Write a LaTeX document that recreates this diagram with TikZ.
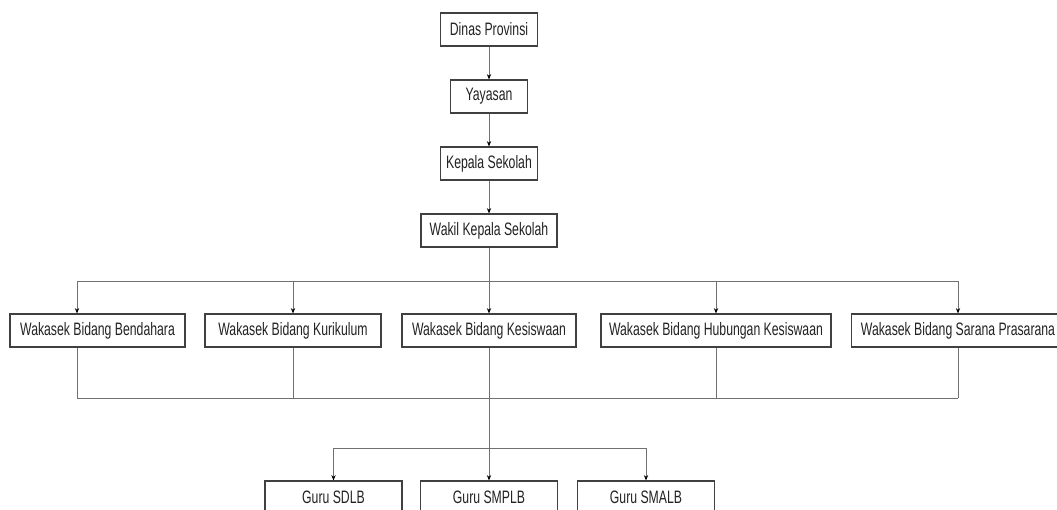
\documentclass[tikz,border=0pt]{standalone}
\usepackage{fontspec}
\setmainfont{Liberation Sans}[FakeStretch=0.68]
\usetikzlibrary{arrows.meta}
\definecolor{boxline}{HTML}{404040}
\definecolor{conn}{HTML}{707070}
\definecolor{txt}{HTML}{222222}
\tikzset{
  orgbox/.style={draw=boxline, line width=0.8pt, fill=white, inner sep=0pt,
    minimum height=33*0.75pt, text=txt, font=\fontsize{13.5}{15}\selectfont, anchor=center},
  conline/.style={draw=conn, line width=0.6pt},
  arr/.style={conline, -{Stealth[length=4pt,width=3.2pt,color=black]}}
}
\begin{document}
\begin{tikzpicture}[x=0.75pt,y=-0.75pt]
\clip (0,0) rectangle (1057,510);
\fill[white] (0,0) rectangle (1057,510);
% top chain
\node[orgbox, minimum width=97*0.75pt] (dinas) at (489,29.5) {Dinas Provinsi};
\node[orgbox, minimum width=77*0.75pt] (yay) at (489,96.5) {Yayasan};
\node[orgbox, minimum width=97*0.75pt] (kep) at (489,163.5) {Kepala Sekolah};
\node[orgbox, minimum width=136*0.75pt] (wak) at (489,230.5) {Wakil Kepala Sekolah};
% row
\node[orgbox, minimum width=175*0.75pt] (bend) at (97.5,330.5) {Wakasek Bidang Bendahara};
\node[orgbox, minimum width=176*0.75pt] (kur) at (293,330.5) {Wakasek Bidang Kurikulum};
\node[orgbox, minimum width=174*0.75pt] (kes) at (489,330.5) {Wakasek Bidang Kesiswaan};
\node[orgbox, minimum width=230*0.75pt] (hub) at (716,330.5) {Wakasek Bidang Hubungan Kesiswaan};
\node[orgbox, minimum width=213*0.75pt] (sar) at (958,330.5) {Wakasek Bidang Sarana Prasarana};
% guru
\node[orgbox, minimum width=137*0.75pt] (sd) at (333.5,497.5) {Guru SDLB};
\node[orgbox, minimum width=137*0.75pt] (smp) at (489,497.5) {Guru SMPLB};
\node[orgbox, minimum width=137*0.75pt] (sma) at (646,497.5) {Guru SMALB};
% coordinates
\coordinate (tb) at (489,281);
\coordinate (t1) at (77,281);
\coordinate (t5) at (958,281);
\coordinate (b1) at (77,398);
\coordinate (b5) at (958,398);
\coordinate (gb) at (489,448);
\coordinate (g1) at (333.5,448);
\coordinate (g3) at (646,448);
% top chain arrows
\draw[arr] (dinas.south) -- (yay.north);
\draw[arr] (yay.south) -- (kep.north);
\draw[arr] (kep.south) -- (wak.north);
% top bar
\draw[conline] (wak.south) -- (tb);
\draw[conline] (t1) -- (t5);
\draw[arr] (t1) -- (t1 |- bend.north);
\draw[arr] (tb -| kur.north) -- (kur.north);
\draw[arr] (tb) -- (kes.north);
\draw[arr] (tb -| hub.north) -- (hub.north);
\draw[arr] (t5) -- (t5 |- sar.north);
% bottom bar
\draw[conline] (b1) -- (b5);
\draw[conline] (b1 |- bend.south) -- (b1);
\draw[conline] (kur.south) -- (kur.south |- b1);
\draw[conline] (hub.south) -- (hub.south |- b1);
\draw[conline] (b5 |- sar.south) -- (b5);
\draw[conline] (kes.south) -- (gb);
% guru bar
\draw[conline] (g1) -- (g3);
\draw[arr] (g1) -- (sd.north);
\draw[arr] (gb) -- (smp.north);
\draw[arr] (g3) -- (sma.north);
\end{tikzpicture}
\end{document}
